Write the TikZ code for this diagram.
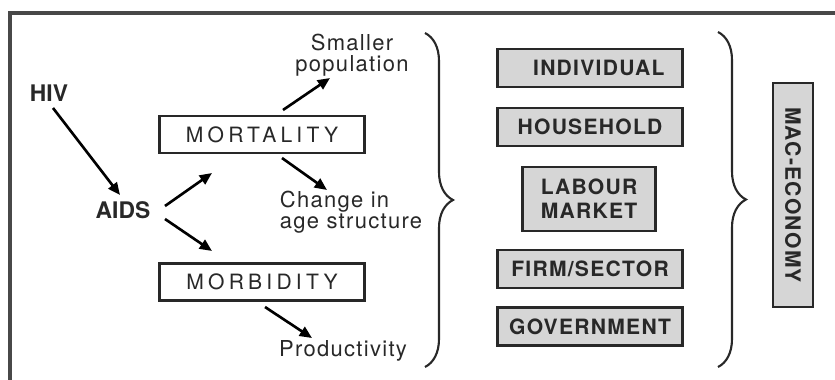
\documentclass[tikz,border=0pt]{standalone}
\usepackage{fontspec}
\setmainfont{TeX Gyre Heros}
\newfontfamily\spacedfont[LetterSpace=20]{TeX Gyre Heros}
\newfontfamily\trackedfont[LetterSpace=6]{TeX Gyre Heros}
\usetikzlibrary{arrows.meta,decorations.pathreplacing}
\definecolor{ink}{RGB}{40,40,40}
\definecolor{boxgray}{RGB}{214,214,214}

\begin{document}
\begin{tikzpicture}[x=0.02cm, y=-0.02cm,
  effnode/.style={rectangle, draw=ink, line width=1.4pt, fill=white,
    minimum width=4.1cm, minimum height=0.74cm, inner sep=2pt, text=ink,
    font=\spacedfont\fontsize{12}{14}\selectfont},
  levelnode/.style={rectangle, draw=ink, line width=1.4pt, fill=boxgray,
    minimum width=3.7cm, minimum height=0.76cm, inner sep=2pt, align=center, text=ink,
    font=\trackedfont\bfseries\fontsize{12}{13.6}\selectfont},
  lbl/.style={inner sep=0pt, text=ink, font=\trackedfont\fontsize{12.5}{11.6}\selectfont},
  cause/.style={inner sep=1pt, text=ink, font=\bfseries\fontsize{13}{15}\selectfont},
  arr/.style={-{Triangle[length=7pt,width=6pt]}, line width=1.5pt, black},
  brc/.style={decorate, decoration={brace, amplitude=0.56cm}, line width=1.2pt, ink}
]
\useasboundingbox (0,0) rectangle (835,379);

% moldura
\draw[line width=1.8pt, ink!85] (845,13) -| (10,390);

% causas e efeitos demográficos
\node[cause] (hiv) at (49,93) {HIV};
\node[cause] (aids) at (123,210) {AIDS};
\node[effnode] (mortality) at (262,134.5) {MORTALITY};
\node[effnode] (morbidity) at (262,282) {MORBIDITY};
\node[lbl, align=center] (smaller) at (352,55) {Smaller\\population};
\node[lbl, align=left] (change) at (351,212) {Change in\\age structure};
\node[lbl] (productivity) at (343,351) {Productivity};

\draw[arr] ([shift={(4,15)}]hiv.center) -- ([shift={(-3,-15)}]aids.center);
\draw[arr] ([shift={(42,-4)}]aids.center) -- ([shift={(-50,38.5)}]mortality.center);
\draw[arr] ([shift={(42,9)}]aids.center) -- ([shift={(-50,-31)}]morbidity.center);
\draw[arr] ([shift={(21,-24.5)}]mortality.center) -- ([shift={(-22,23)}]smaller.center);
\draw[arr] ([shift={(20,23.5)}]mortality.center) -- ([shift={(-24,-22)}]change.center);
\draw[arr] ([shift={(3,25)}]morbidity.center) -- ([shift={(-31,-13)}]productivity.center);

% chaves
\draw[brc] (425,33) -- (425,367);
\draw[brc] (718,32) -- (718,367);

% níveis de impacto
\node[levelnode] (individual) at (590,68) {\hspace*{10pt}INDIVIDUAL};
\node[levelnode] (household) at (590,127) {HOUSEHOLD};
\node[levelnode, minimum width=2.66cm, minimum height=1.28cm] (labour) at (589,199) {LABOUR\\MARKET};
\node[levelnode] (firm) at (590,269) {FIRM/SECTOR};
\node[levelnode] (government) at (590,326.5) {GOVERNMENT};
\node[levelnode, rotate=-90, minimum width=4.48cm, minimum height=0.8cm] (macro) at (793,195) {MAC-ECONOMY};

\end{tikzpicture}
\end{document}
